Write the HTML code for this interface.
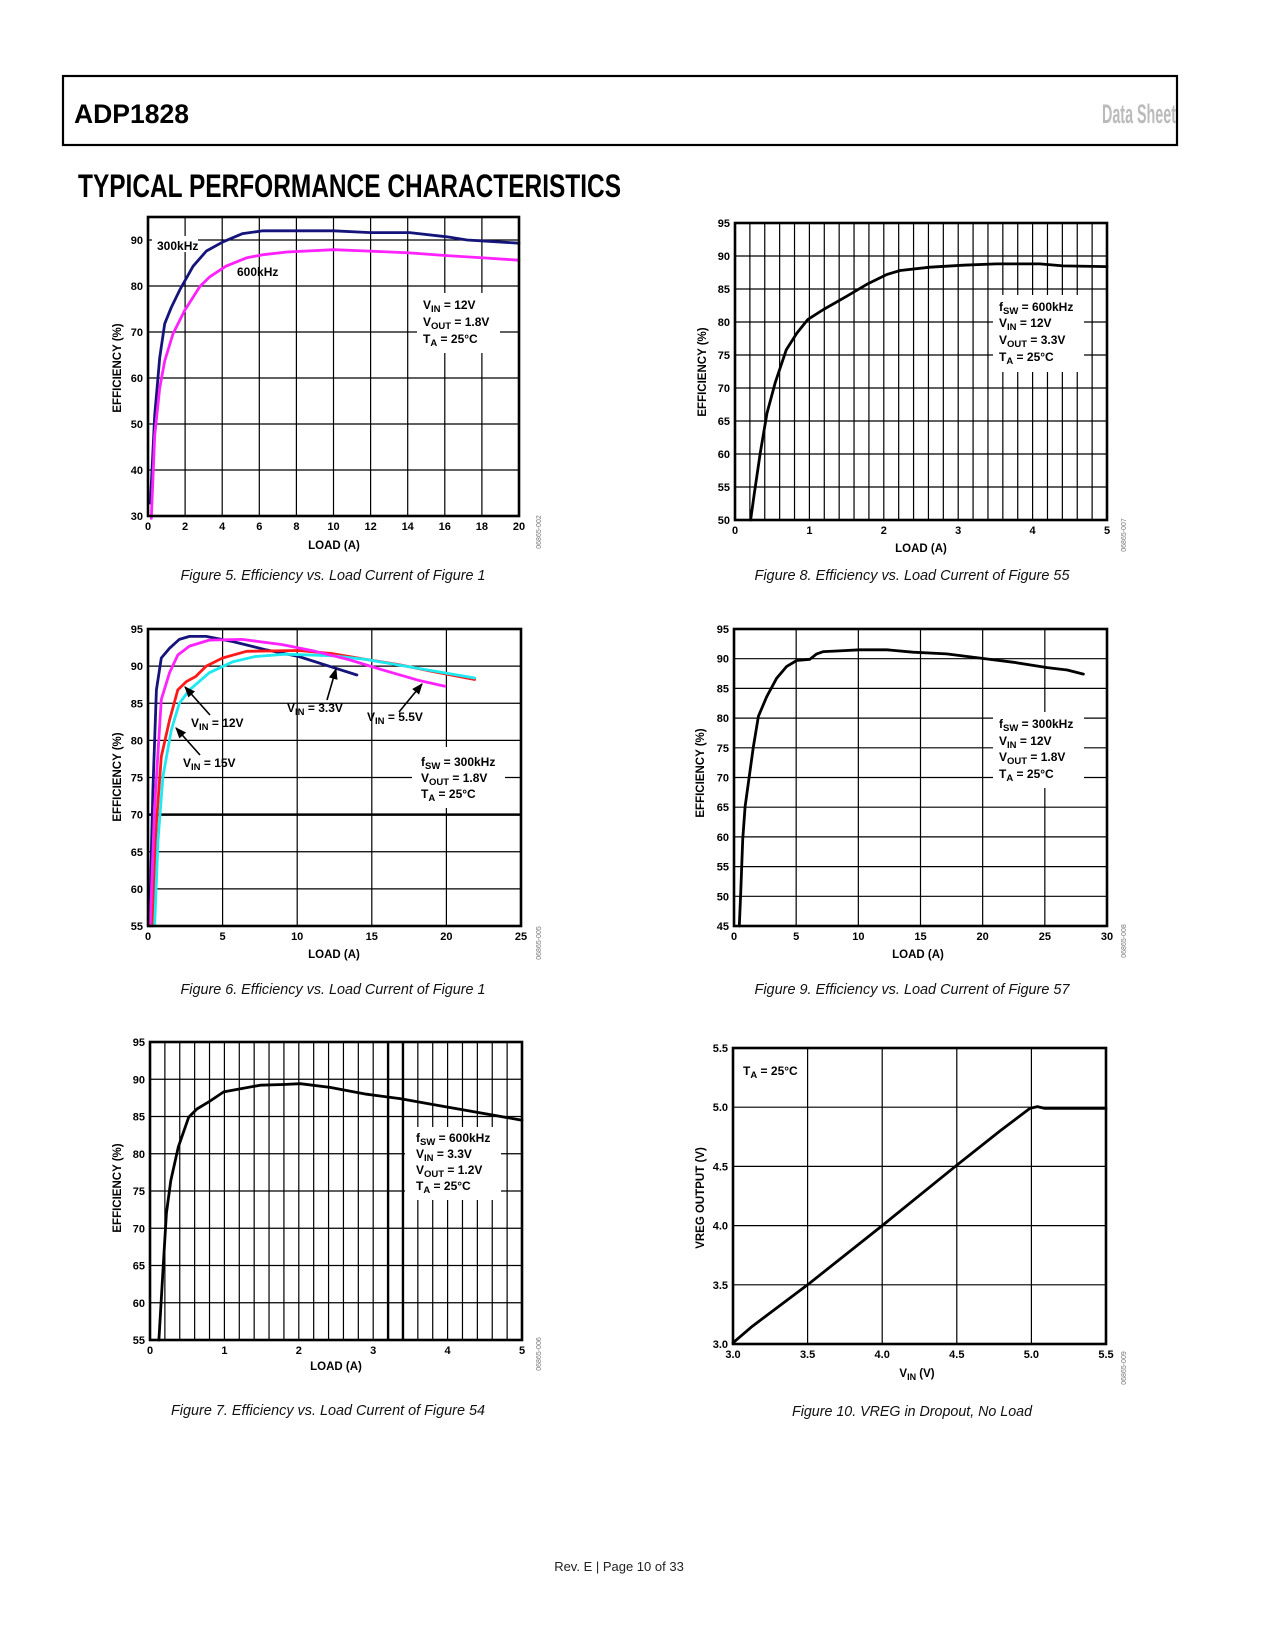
<!DOCTYPE html>
<html><head><meta charset="utf-8"><title>ADP1828 Typical Performance Characteristics</title>
<style>
html,body{margin:0;padding:0;background:#fff;}
svg{display:block;font-family:"Liberation Sans",Arial,sans-serif;}
.tk{font-size:11px;font-weight:bold;fill:#000;}
.ax{font-size:11.5px;font-weight:bold;fill:#000;}
.an{font-size:12px;font-weight:bold;fill:#000;}
.cap{font-size:14.5px;font-style:italic;fill:#111;}
.fid{font-size:7px;fill:#777;}
</style></head>
<body>
<svg id="page" width="1275" height="1650" viewBox="0 0 1275 1650" xmlns="http://www.w3.org/2000/svg">
<defs>
<marker id="ah" viewBox="0 0 10 10" refX="9" refY="5" markerWidth="7" markerHeight="7" orient="auto"><path d="M0,1 L10,5 L0,9 z" fill="#000"/></marker>
</defs>
<rect x="63" y="76" width="1114" height="69" fill="none" stroke="#000" stroke-width="2.2"/>
<text x="74" y="123" font-size="27" font-weight="bold" textLength="115" lengthAdjust="spacingAndGlyphs">ADP1828</text>
<text x="1102" y="123" font-size="27" font-weight="bold" fill="#bbb" textLength="74" lengthAdjust="spacingAndGlyphs">Data Sheet</text>
<text x="78" y="197" font-size="32" font-weight="bold" textLength="543" lengthAdjust="spacingAndGlyphs">TYPICAL PERFORMANCE CHARACTERISTICS</text>
<text x="619" y="1571" font-size="13" text-anchor="middle" fill="#222">Rev. E | Page 10 of 33</text>
<g id="charts"></g>
</svg>
<script>
// ---- Figure 5 data ----
const f5Ticks_x = [0,2,4,6,8,10,12,14,16,18,20];
const f5Ticks_y = [30,40,50,60,70,80,90];
const f5_300_x = [0.13,0.36,0.63,0.9,1.26,1.71,2.43,3.15,4.05,5.1,6.2,10,12,14.1,16.1,17.2,20];
const f5_300_y = [32.8,51.9,64.4,71.8,75.4,79.1,84.3,87.6,89.6,91.4,92,92,91.6,91.6,90.7,90,89.3];
const f5_600_x = [0.18,0.36,0.63,0.9,1.35,1.98,2.8,3.33,4.2,5.3,6.2,7.5,10,11.8,14.1,16.1,18.1,20];
const f5_600_y = [29.5,47.5,57.8,63.7,69.6,74.7,79.9,82,84.3,86.1,86.8,87.4,87.9,87.6,87.2,86.6,86.1,85.6];
// ---- Figure 6 data ----
const f6Ticks_x = [0,5,10,15,20,25];
const f6Ticks_y = [55,60,65,70,75,80,85,90,95];
const f6_33_x = [0.1,0.33,0.56,0.89,1.44,2.1,2.78,3.9,5.7,7.9,10.1,12.3,14];
const f6_33_y = [55,73.3,86.8,91.1,92.4,93.6,94,94,93.3,92.2,91.3,89.9,88.8];
const f6_55_x = [0.15,0.44,0.89,1.44,2,2.78,4.1,6.3,9,11.2,13.4,15.7,18.1,19.9];
const f6_55_y = [55,71,85.5,89.1,91.5,92.7,93.5,93.6,92.9,92,90.9,89.5,88.1,87.3];
const f6_12_x = [0.29,0.56,0.89,1.44,2,2.56,3.2,3.9,5,6.6,10.1,12.3,14.6,16.8,19,21.9];
const f6_12_y = [55,68.8,77.8,82.7,86.8,87.9,88.6,90,91.1,92,92.1,91.7,90.9,90.2,89.3,88.2];
const f6_15_x = [0.44,0.67,1,1.56,2.1,2.78,4.1,5.7,7.2,9.2,12.3,14.6,19,21.9];
const f6_15_y = [55,66.5,75.1,81.4,85,86.8,89.1,90.6,91.3,91.6,91.4,90.9,89.4,88.4];
// ---- Figure 7 data ----
const f7Ticks_x = [0,1,2,3,4,5];
const f7Ticks_y = [55,60,65,70,75,80,85,90,95];
const f7_x = [0.12,0.18,0.22,0.28,0.38,0.52,0.63,0.81,0.99,1.21,1.48,1.79,2.02,2.42,2.91,3.36,3.81,4.26,5];
const f7_y = [55,65.3,72,76.4,80.9,84.9,86,87.1,88.3,88.7,89.2,89.3,89.4,88.9,88,87.4,86.6,85.8,84.5];
// ---- Figure 8 data ----
const f8Ticks_x = [0,1,2,3,4,5];
const f8Ticks_y = [50,55,60,65,70,75,80,85,90,95];
const f8_x = [0.21,0.26,0.34,0.43,0.54,0.69,0.83,0.98,1.19,1.5,1.77,2.04,2.22,2.62,3.07,3.51,4.1,4.41,5];
const f8_y = [50,54,60.2,66.2,70.8,75.8,78.3,80.4,81.9,83.9,85.7,87.2,87.8,88.3,88.6,88.8,88.8,88.5,88.4];
// ---- Figure 9 data ----
const f9Ticks_x = [0,5,10,15,20,25,30];
const f9Ticks_y = [45,50,55,60,65,70,75,80,85,90,95];
const f9_x = [0.43,0.54,0.7,0.89,1.15,1.56,1.96,2.63,3.43,4.24,5.04,6.1,6.65,7.2,8.26,10.1,12.3,14.4,17.1,19.8,22.5,25.2,26.8,28.1];
const f9_y = [45,50.5,59.5,65.1,69,75.2,80.3,83.6,86.7,88.7,89.7,89.9,90.8,91.2,91.3,91.5,91.5,91.1,90.8,90.1,89.4,88.5,88.1,87.4];
// ---- Figure 10 data ----
const f10Ticks_x = ["3.0","3.5","4.0","4.5","5.0","5.5"];
const f10Ticks_y = ["3.0","3.5","4.0","4.5","5.0","5.5"];
const f10_x = [3.0,3.13,3.5,4.0,4.5,4.79,4.99,5.04,5.09,5.5];
const f10_y = [3.01,3.15,3.5,4.0,4.51,4.8,4.99,5.005,4.99,4.99];

const NS = "http://www.w3.org/2000/svg";
const root = document.getElementById('charts');
function mk(tag, attrs, parent){
  const e = document.createElementNS(NS, tag);
  for (const k in attrs) e.setAttribute(k, attrs[k]);
  (parent||root).appendChild(e);
  return e;
}

function makeChart(name, L, xt, yt, gx, gy, thickX, thickY){
  const g = mk('g', {});
  
  
  const sx = v => L.x0 + (v - L.xmin) / (L.xmax - L.xmin) * (L.x1 - L.x0);
  const sy = v => L.y1 - (v - L.ymin) / (L.ymax - L.ymin) * (L.y1 - L.y0);
  // grid
  for (let v = L.xmin + gx; v < L.xmax - 1e-6; v += gx) {
    const isT = thickX.some(t => Math.abs(t - v) < 1e-6);
    const ln = mk('line', {x1:sx(v), x2:sx(v), y1:L.y0, y2:L.y1, stroke:'#000', 'stroke-width': isT ? 2.4 : 1.2}, g);
    
    
  }
  for (let v = L.ymin + gy; v < L.ymax - 1e-6; v += gy) {
    const isT = thickY.some(t => Math.abs(t - v) < 1e-6);
    const ln = mk('line', {x1:L.x0, x2:L.x1, y1:sy(v), y2:sy(v), stroke:'#000', 'stroke-width': isT ? 2.4 : 1.2}, g);
    
    
  }
  // ticks
  xt.forEach(t => {
    const tx = mk('text', {x:sx(parseFloat(t)), y:L.y1 + 14, 'text-anchor':'middle', class:'tk'}, g);
    tx.textContent = t;
    
    
  });
  yt.forEach(t => {
    const tx = mk('text', {x:L.x0 - 5, y:sy(parseFloat(t)) + 4, 'text-anchor':'end', class:'tk'}, g);
    tx.textContent = t;
    
    
  });
  return {g, sx, sy, L};
}
function frame(c){
  const L = c.L;
  const r = mk('rect', {x:L.x0, y:L.y0, width:L.x1-L.x0, height:L.y1-L.y0, fill:'none', stroke:'#000', 'stroke-width':2.6}, c.g);
  
  
}
function series(c, xs, ys, color, name){
  const pts = xs.map((x,i) => c.sx(x).toFixed(1) + ',' + c.sy(ys[i]).toFixed(1)).join(' ');
  const p = mk('polyline', {points:pts, fill:'none', stroke:color, 'stroke-width':2.8, 'stroke-linejoin':'round', 'stroke-linecap':'round'}, c.g);
  
  
}
function whiteBox(c, x, y, w, h){
  const r = mk('rect', {x:x, y:y, width:w, height:h, fill:'#fff'}, c.g);
  
  
}
function annot(c, x, y, main, sub, rest, name){
  const t = mk('text', {x:x, y:y, class:'an'}, c.g);
  
  
  const a = mk('tspan', {}, t); a.textContent = main;
  if (sub) { const b = mk('tspan', {dy:3, 'font-size':'9.5px'}, t); b.textContent = sub; }
  const d = mk('tspan', {dy: sub ? -3 : 0}, t); d.textContent = rest;
}
function axisLabels(c, xl, xlx, xly, yl, ylx, yly, xsub){
  const t = mk('text', {x:xlx, y:xly, 'text-anchor':'middle', class:'ax'}, c.g);
  
  
  if (xsub) {
    const a = mk('tspan', {}, t); a.textContent = 'V';
    const b = mk('tspan', {dy:3, 'font-size':'9px'}, t); b.textContent = 'IN';
    const d = mk('tspan', {dy:-3}, t); d.textContent = ' (V)';
  } else t.textContent = xl;
  const y = mk('text', {x:0, y:0, 'text-anchor':'middle', class:'ax', transform:`translate(${ylx},${yly}) rotate(-90)`}, c.g);
  
  
  y.textContent = yl;
}
function figId(c, x, y, txt){
  const t = mk('text', {x:0, y:0, 'text-anchor':'middle', class:'fid', transform:`translate(${x},${y}) rotate(-90)`}, c.g);
  
  
  t.textContent = txt;
}
function caption(x, y, txt, w){
  const t = mk('text', {x:x, y:y, 'text-anchor':'middle', class:'cap', textLength:w, lengthAdjust:'spacingAndGlyphs'});
  
  
  t.textContent = txt;
}
function arrow(c, x1, y1, x2, y2){
  const l = mk('line', {x1, y1, x2, y2, stroke:'#000', 'stroke-width':1.6, 'marker-end':'url(#ah)'}, c.g);
  
  
}
function label(c, x, y, txt, name){
  const t = mk('text', {x, y, class:'an'}, c.g);
  
  
  t.textContent = txt;
}

// Figure 5
let c = makeChart('figure-5-chart', {x0:148,x1:519,y0:217,y1:516,xmin:0,xmax:20,ymin:30,ymax:95}, f5Ticks_x, f5Ticks_y, 2, 10, [], []);
whiteBox(c, 417, 293, 83, 60);
whiteBox(c, 152, 236, 46, 16);
series(c, f5_300_x, f5_300_y, '#14147a', 'series-300khz');
series(c, f5_600_x, f5_600_y, '#ff22ff', 'series-600khz');
frame(c);
label(c, 157, 250, '300kHz', 'label-300khz');
label(c, 237, 276, '600kHz', 'label-600khz');
annot(c, 423, 309, 'V', 'IN', ' = 12V', 'annotation-vin');
annot(c, 423, 326, 'V', 'OUT', ' = 1.8V', 'annotation-vout');
annot(c, 423, 343, 'T', 'A', ' = 25°C', 'annotation-ta');
axisLabels(c, 'LOAD (A)', 334, 549, 'EFFICIENCY (%)', 121, 368);
figId(c, 541, 532, '06865-002');
caption(333, 580, 'Figure 5. Efficiency vs. Load Current of Figure 1', 305);

// Figure 6
c = makeChart('figure-6-chart', {x0:148,x1:521,y0:629,y1:926,xmin:0,xmax:25,ymin:55,ymax:95}, f6Ticks_x, f6Ticks_y, 5, 5, [], [70]);
whiteBox(c, 412, 747, 93, 61);
series(c, f6_33_x, f6_33_y, '#14147a', 'series-vin-3v3');
series(c, f6_12_x, f6_12_y, '#ff1a1a', 'series-vin-12v');
series(c, f6_15_x, f6_15_y, '#1ee8f0', 'series-vin-15v');
series(c, f6_55_x, f6_55_y, '#ff22ff', 'series-vin-5v5');
frame(c);
arrow(c, 210, 715, 185, 687);
arrow(c, 200, 755, 176, 728);
arrow(c, 327, 700, 336, 669);
arrow(c, 399, 712, 422, 684);
annot(c, 191, 727, 'V', 'IN', ' = 12V', 'label-vin-12v');
annot(c, 183, 767, 'V', 'IN', ' = 15V', 'label-vin-15v');
annot(c, 287, 712, 'V', 'IN', ' = 3.3V', 'label-vin-3v3');
annot(c, 367, 721, 'V', 'IN', ' = 5.5V', 'label-vin-5v5');
annot(c, 421, 766, 'f', 'SW', ' = 300kHz', 'annotation-fsw');
annot(c, 421, 782, 'V', 'OUT', ' = 1.8V', 'annotation-vout');
annot(c, 421, 798, 'T', 'A', ' = 25°C', 'annotation-ta');
axisLabels(c, 'LOAD (A)', 334, 958, 'EFFICIENCY (%)', 121, 777);
figId(c, 541, 943, '06865-005');
caption(333, 994, 'Figure 6. Efficiency vs. Load Current of Figure 1', 305);

// Figure 7
c = makeChart('figure-7-chart', {x0:150,x1:522,y0:1042,y1:1340,xmin:0,xmax:5,ymin:55,ymax:95}, f7Ticks_x, f7Ticks_y, 0.2, 5, [3.2,3.4], []);
whiteBox(c, 405, 1127, 96, 73);
series(c, f7_x, f7_y, '#000', 'series-efficiency');
frame(c);
annot(c, 416, 1142, 'f', 'SW', ' = 600kHz', 'annotation-fsw');
annot(c, 416, 1158, 'V', 'IN', ' = 3.3V', 'annotation-vin');
annot(c, 416, 1174, 'V', 'OUT', ' = 1.2V', 'annotation-vout');
annot(c, 416, 1190, 'T', 'A', ' = 25°C', 'annotation-ta');
axisLabels(c, 'LOAD (A)', 336, 1370, 'EFFICIENCY (%)', 121, 1188);
figId(c, 541, 1354, '06865-006');
caption(328, 1415, 'Figure 7. Efficiency vs. Load Current of Figure 54', 314);

// Figure 8
c = makeChart('figure-8-chart', {x0:735,x1:1107,y0:223,y1:520,xmin:0,xmax:5,ymin:50,ymax:95}, f8Ticks_x, f8Ticks_y, 0.2, 5, [], []);
whiteBox(c, 993, 295, 91, 77);
series(c, f8_x, f8_y, '#000', 'series-efficiency');
frame(c);
annot(c, 999, 311, 'f', 'SW', ' = 600kHz', 'annotation-fsw');
annot(c, 999, 327, 'V', 'IN', ' = 12V', 'annotation-vin');
annot(c, 999, 344, 'V', 'OUT', ' = 3.3V', 'annotation-vout');
annot(c, 999, 361, 'T', 'A', ' = 25°C', 'annotation-ta');
axisLabels(c, 'LOAD (A)', 921, 552, 'EFFICIENCY (%)', 706, 372);
figId(c, 1126, 535, '06865-007');
caption(912, 580, 'Figure 8. Efficiency vs. Load Current of Figure 55', 315);

// Figure 9
c = makeChart('figure-9-chart', {x0:734,x1:1107,y0:629,y1:926,xmin:0,xmax:30,ymin:45,ymax:95}, f9Ticks_x, f9Ticks_y, 5, 5, [], []);
whiteBox(c, 993, 712, 91, 76);
series(c, f9_x, f9_y, '#000', 'series-efficiency');
frame(c);
annot(c, 999, 728, 'f', 'SW', ' = 300kHz', 'annotation-fsw');
annot(c, 999, 745, 'V', 'IN', ' = 12V', 'annotation-vin');
annot(c, 999, 761, 'V', 'OUT', ' = 1.8V', 'annotation-vout');
annot(c, 999, 778, 'T', 'A', ' = 25°C', 'annotation-ta');
axisLabels(c, 'LOAD (A)', 918, 958, 'EFFICIENCY (%)', 704, 773);
figId(c, 1126, 941, '06865-008');
caption(912, 994, 'Figure 9. Efficiency vs. Load Current of Figure 57', 315);

// Figure 10
c = makeChart('figure-10-chart', {x0:733,x1:1106,y0:1048,y1:1344,xmin:3,xmax:5.5,ymin:3,ymax:5.5}, f10Ticks_x, f10Ticks_y, 0.5, 0.5, [], []);
series(c, f10_x, f10_y, '#000', 'series-vreg');
frame(c);
annot(c, 743, 1075, 'T', 'A', ' = 25°C', 'annotation-ta');
axisLabels(c, '', 917, 1377, 'VREG OUTPUT (V)', 704, 1198, true);
figId(c, 1126, 1368, '06865-009');
caption(912, 1416, 'Figure 10. VREG in Dropout, No Load', 240);
</script>
</body></html>
